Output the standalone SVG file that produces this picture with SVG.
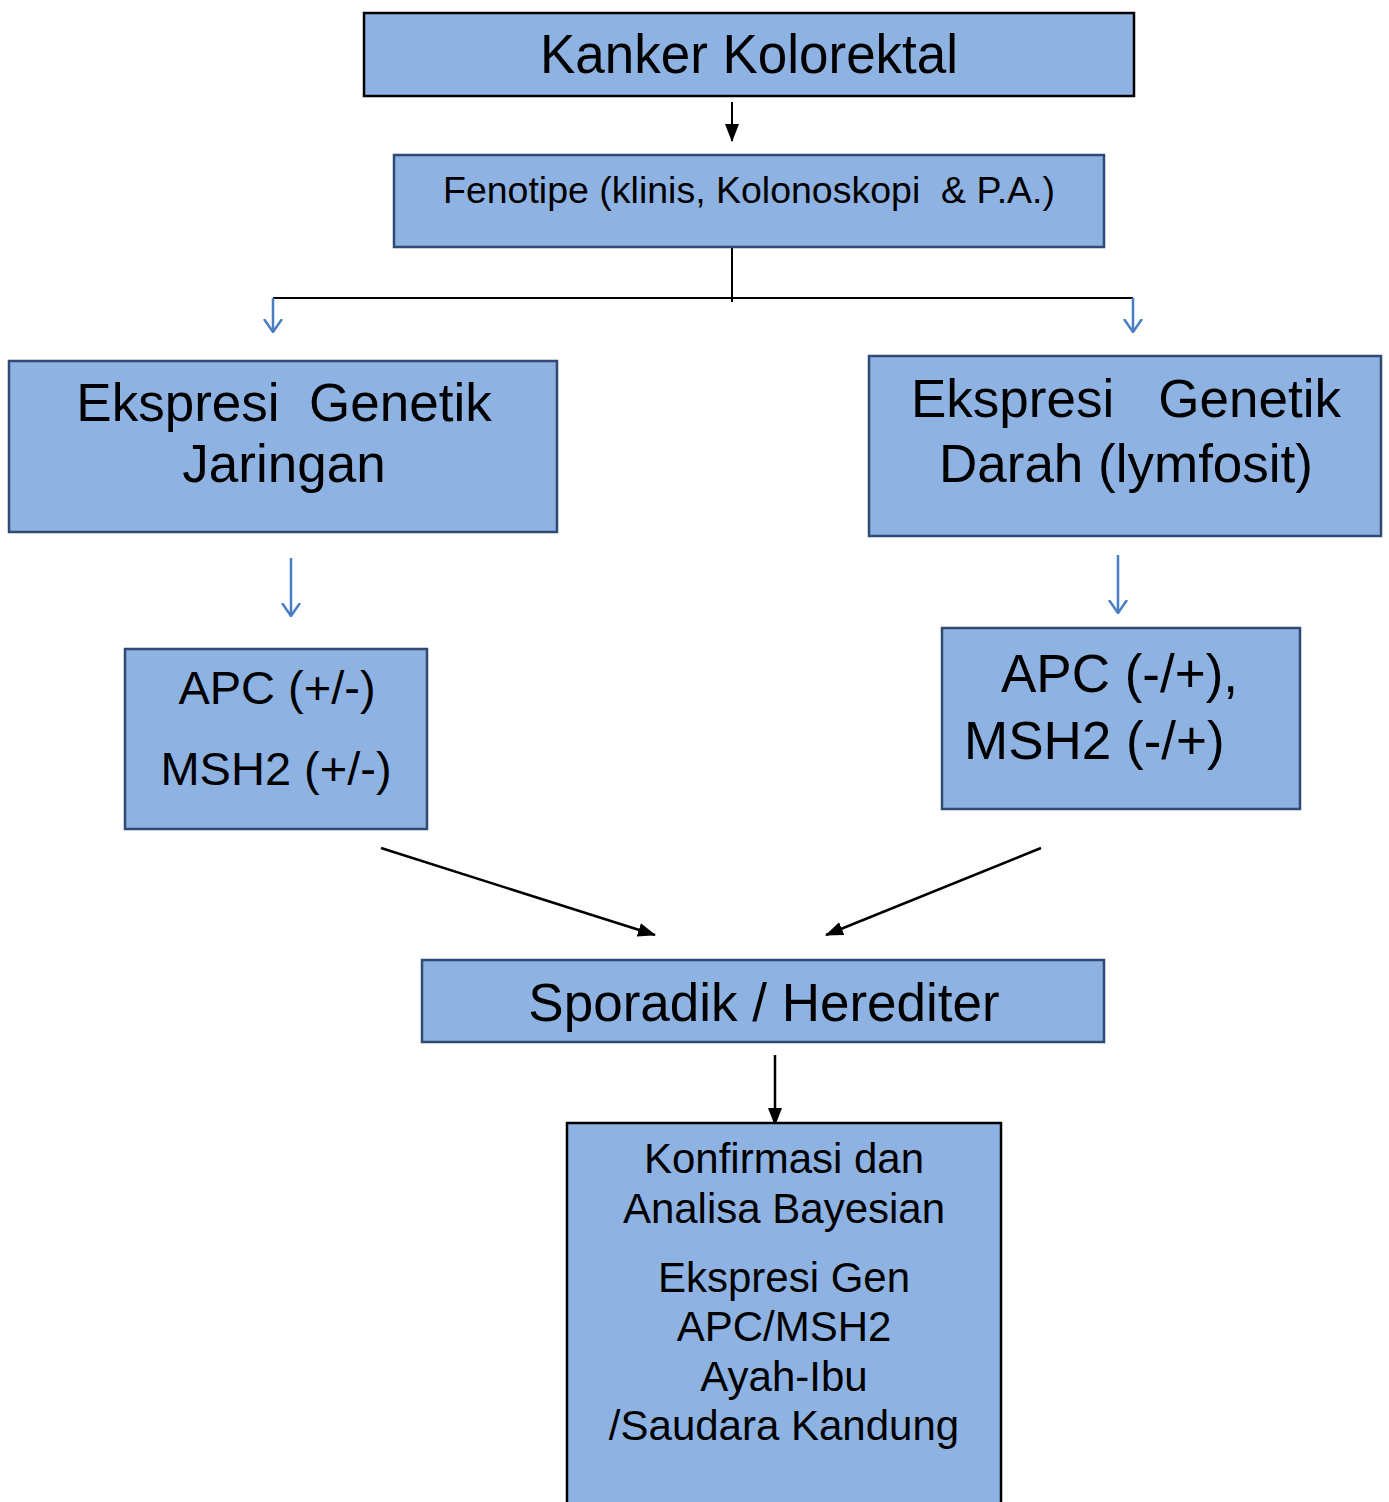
<svg xmlns="http://www.w3.org/2000/svg" width="1389" height="1502" viewBox="0 0 1389 1502">
<style>
.box{fill:#8eb3e2;stroke:#2f4a73;stroke-width:2.5}
.boxk{fill:#8eb3e2;stroke:#000;stroke-width:2.5}
text{font-family:"Liberation Sans",Arial,sans-serif;fill:#000}
.c{text-anchor:middle}
.bk{stroke:#000;stroke-width:2;fill:none}
.bl{stroke:#4a7ec2;stroke-width:2.5;fill:none}
</style>
<defs>
<marker id="ahb" markerWidth="14" markerHeight="20" refX="13" refY="10" orient="auto" markerUnits="userSpaceOnUse" viewBox="0 0 14 20">
<path d="M0,1 L13,10 L0,19" fill="none" stroke="#4a7ec2" stroke-width="2.5"/>
</marker>
<marker id="ahl" markerWidth="18" markerHeight="14" refX="17" refY="7" orient="auto" markerUnits="userSpaceOnUse" viewBox="0 0 18 14">
<path d="M0,0 L18,7 L0,14 z" fill="#000"/>
</marker>
</defs>

<g id="connectors">
<line class="bk" x1="732" y1="102" x2="732" y2="141" marker-end="url(#ahl)"/>
<line class="bk" x1="732" y1="247" x2="732" y2="302"/>
<polyline class="bk" points="273,298 1133,298" style="stroke-width:1.8"/>
<line class="bl" x1="273" y1="298" x2="273" y2="332" marker-end="url(#ahb)"/>
<line class="bl" x1="1133" y1="298" x2="1133" y2="332" marker-end="url(#ahb)"/>
<line class="bl" x1="291" y1="558" x2="291" y2="616" marker-end="url(#ahb)"/>
<line class="bl" x1="1118" y1="555" x2="1118" y2="613" marker-end="url(#ahb)"/>
<line class="bk" x1="381" y1="848" x2="655" y2="935" style="stroke-width:2.5" marker-end="url(#ahl)"/>
<line class="bk" x1="1041" y1="848" x2="826" y2="935" style="stroke-width:2.5" marker-end="url(#ahl)"/>
<line class="bk" x1="775" y1="1055" x2="775" y2="1125" style="stroke-width:2.5" marker-end="url(#ahl)"/>
</g>

<g id="node-kanker">
<rect class="boxk" x="364" y="13" width="770" height="83"/>
<text class="c" x="749" y="73" font-size="55" textLength="418" lengthAdjust="spacingAndGlyphs">Kanker Kolorektal</text>
</g>

<g id="node-fenotipe">
<rect class="box" x="394" y="155" width="710" height="92"/>
<text class="c" x="749" y="203" font-size="37" textLength="612" lengthAdjust="spacingAndGlyphs" xml:space="preserve">Fenotipe (klinis, Kolonoskopi  &amp; P.A.)</text>
</g>

<g id="node-jaringan">
<rect class="box" x="9" y="361" width="548" height="171"/>
<text class="c" x="284" y="421" font-size="53" xml:space="preserve">Ekspresi  Genetik</text>
<text class="c" x="284" y="482" font-size="53">Jaringan</text>
</g>

<g id="node-darah">
<rect class="box" x="869" y="356" width="512" height="180"/>
<text class="c" x="1126" y="417" font-size="53" xml:space="preserve">Ekspresi   Genetik</text>
<text class="c" x="1126" y="482" font-size="53">Darah (lymfosit)</text>
</g>

<g id="node-apc-left">
<rect class="box" x="125" y="649" width="302" height="180"/>
<text class="c" x="277" y="704" font-size="47">APC (+/-)</text>
<text class="c" x="276" y="785" font-size="47">MSH2 (+/-)</text>
</g>

<g id="node-apc-right">
<rect class="box" x="942" y="628" width="358" height="181"/>
<text x="1001" y="692" font-size="53">APC (-/+),</text>
<text x="964" y="759" font-size="53">MSH2 (-/+)</text>
</g>

<g id="node-sporadik">
<rect class="box" x="422" y="960" width="682" height="82"/>
<text class="c" x="764" y="1021" font-size="53">Sporadik / Herediter</text>
</g>

<g id="node-konfirmasi">
<rect class="boxk" x="567" y="1123" width="434" height="390"/>
<text class="c" x="784" y="1173" font-size="42">Konfirmasi dan</text>
<text class="c" x="784" y="1223" font-size="42">Analisa Bayesian</text>
<text class="c" x="784" y="1292" font-size="42">Ekspresi Gen</text>
<text class="c" x="784" y="1341" font-size="42">APC/MSH2</text>
<text class="c" x="784" y="1391" font-size="42">Ayah-Ibu</text>
<text class="c" x="784" y="1440" font-size="42">/Saudara Kandung</text>
</g>
</svg>
